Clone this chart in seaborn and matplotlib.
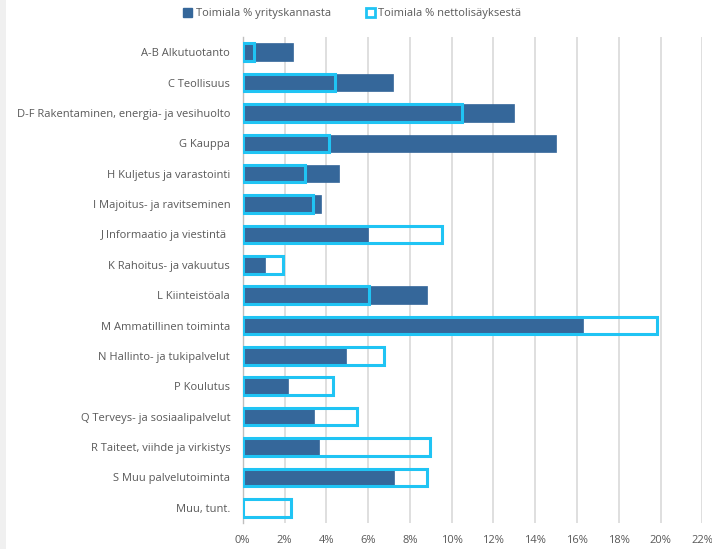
import matplotlib
matplotlib.use('Agg')

import pandas as pd
import seaborn as sns
from matplotlib import pyplot as plt
from matplotlib import ticker
from matplotlib.patches import Patch, Rectangle

categories = [
    'A-B Alkutuotanto',
    'C Teollisuus',
    'D-F Rakentaminen, energia- ja vesihuolto',
    'G Kauppa',
    'H Kuljetus ja varastointi',
    'I Majoitus- ja ravitseminen',
    'J Informaatio ja viestintä ',
    'K Rahoitus- ja vakuutus',
    'L Kiinteistöala',
    'M Ammatillinen toiminta',
    'N Hallinto- ja tukipalvelut',
    'P Koulutus',
    'Q Terveys- ja sosiaalipalvelut',
    'R Taiteet, viihde ja virkistys',
    'S Muu palvelutoiminta',
    'Muu, tunt.',
]
share_companies = [2.42, 7.20, 13.0, 15.02, 4.59, 3.76, 6.0, 1.05,
                   8.82, 16.27, 4.93, 2.19, 3.43, 3.65, 7.26, 0.08]
share_net_sales = [0.55, 4.43, 10.48, 4.13, 2.98, 3.35, 9.52, 1.91,
                   6.06, 19.81, 6.75, 4.34, 5.47, 8.95, 8.84, 2.30]
x_ticks = [0, 2, 4, 6, 8, 10, 12, 14, 16, 18, 20, 22]

series_names = ['Toimiala % yrityskannasta', 'Toimiala % nettolisäyksestä']
dark = '#35679a'
cyan = '#20c4f4'
text_color = '#595959'

df = pd.DataFrame({
    'toimiala': categories,
    'yritys': [v / 100 for v in share_companies],
    'netto': [v / 100 for v in share_net_sales],
})

sns.set_style('white')
plt.rcParams['font.family'] = ['Open Sans', 'DejaVu Sans']

fig = plt.figure(figsize=(7.12, 5.49), dpi=100)
ax = fig.add_axes([0.3409, 0.0474, 0.6455, 0.8852])

sns.barplot(df, x='yritys', y='toimiala', orient='h', color=dark,
            width=0.58, saturation=1, edgecolor=dark, linewidth=0.5, ax=ax, zorder=3)
sns.barplot(df, x='netto', y='toimiala', orient='h', fill=False,
            width=0.58, edgecolor=cyan, linewidth=2.2, ax=ax, zorder=4)

ax.set_xlim(0, 0.22)
ax.set_xticks([t / 100 for t in x_ticks])
ax.xaxis.set_major_formatter(ticker.PercentFormatter(1.0, decimals=0))
ax.set_xlabel('')
ax.set_ylabel('')
ax.grid(axis='x', color='#d9d9d9', linewidth=1.2, zorder=0)
ax.set_axisbelow(True)
for side in ['top', 'right', 'bottom']:
    ax.spines[side].set_visible(False)
ax.spines['left'].set_color('#bfbfbf')
ax.spines['left'].set_linewidth(1)
ax.tick_params(axis='both', length=0, labelsize=8, labelcolor=text_color)
ax.tick_params(axis='y', pad=9)
ax.tick_params(axis='x', pad=9)

handles = [
    Patch(facecolor=dark, edgecolor=dark),
    Patch(facecolor='white', edgecolor=cyan, linewidth=2),
]
fig.legend(handles, series_names, loc='center', bbox_to_anchor=(0.495, 0.975),
           ncol=2, frameon=False, fontsize=8, handlelength=0.8, handleheight=0.8,
           handletextpad=0.3, columnspacing=3.2, labelcolor=text_color)

# faint chart-area edge on the left
fig.patches.append(Rectangle((0, 0), 0.009, 1, transform=fig.transFigure,
                             facecolor='#f0f0f0', edgecolor='none'))

fig.savefig('out.png', dpi=100)
